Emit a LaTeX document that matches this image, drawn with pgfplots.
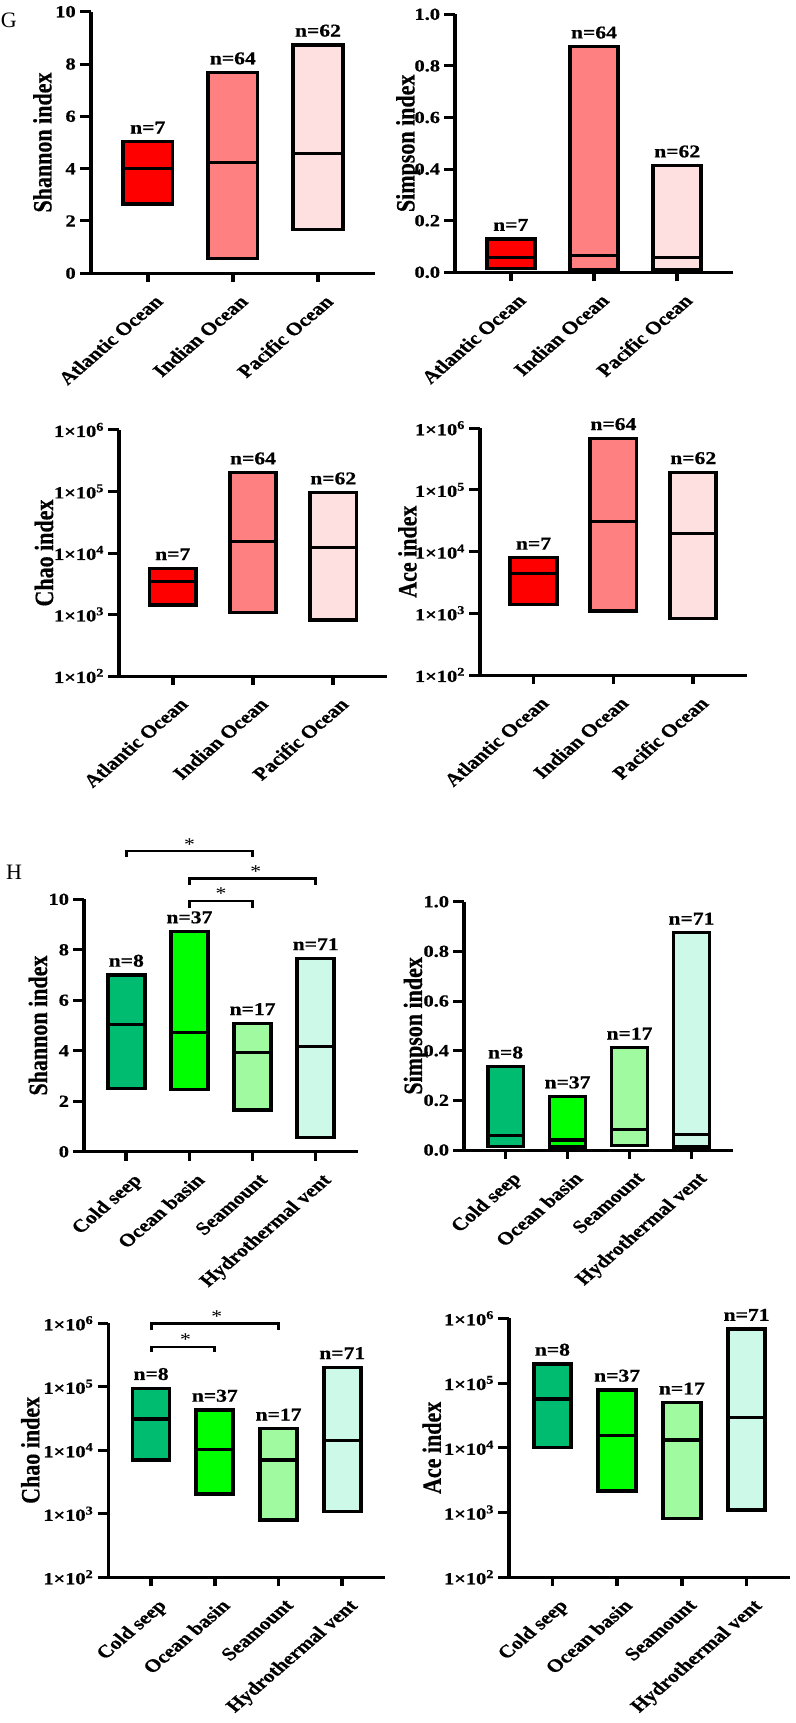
\documentclass[border=0pt]{standalone}
\usepackage{fontspec}
\setmainfont{Liberation Serif}[BoldFeatures={FakeBold=0.6}]
\usepackage{pgfplots}
\pgfplotsset{compat=1.18}

\definecolor{atl}{RGB}{255,0,0}
\definecolor{ind}{RGB}{255,128,128}
\definecolor{pac}{RGB}{255,224,224}
\definecolor{cold}{RGB}{0,188,112}
\definecolor{basin}{RGB}{0,255,0}
\definecolor{seam}{RGB}{160,250,160}
\definecolor{vent}{RGB}{205,250,232}

\newcommand{\fsz}[1]{\fontsize{#1bp}{#1bp}\selectfont}
\newcommand{\ltl}[1]{1×10\textsuperscript{#1}}

% box from lo to hi with a median bar: xl, xr, lo, med, hi, colour
\newcommand{\rbox}[6]{%
  \addplot[fill=#6, draw=black, line width=3.2bp, line join=miter]
    coordinates {(#1,#3) (#2,#3) (#2,#5) (#1,#5)} -- cycle;
  \addplot[draw=black, line width=3.2bp] coordinates {(#1,#4) (#2,#4)};
}

\tikzset{
  nlab/.style={anchor=south, inner sep=0pt, yshift=8bp, font=\fsz{18}\bfseries},
  sig/.style={anchor=base, inner sep=0pt, yshift=1bp, font=\fsz{18}},
}

\pgfplotsset{
  panel/.style={
    scale only axis, clip=false, anchor=south west,
    axis x line*=bottom, axis y line*=left,
    axis line style={line width=3bp},
    tick style={black, line width=3bp},
    major tick length=9bp, tick align=outside,
    xmin=0.33, xtick={1,2,3,4},
    yticklabel style={font=\fsz{17}\bfseries},
    xticklabel style={font=\fsz{18}\bfseries, xshift=4.5bp, yshift=-10bp, rotate=46, anchor=north east, inner sep=1bp},
    ylabel style={font=\fsz{22}\bfseries, anchor=center},
  },
  ocean/.style={panel, xmax=3.67, xticklabels={Atlantic Ocean, Indian Ocean, Pacific Ocean}},
  habitat/.style={panel, xmax=4.67, xticklabels={Cold seep, Ocean basin, Seamount, Hydrothermal vent}},
  shannon/.style={ymin=0, ymax=10, ytick={0,2,4,6,8,10}, yticklabels={0,2,4,6,8,10}, ylabel={Shannon index}},
  simpson/.style={ymin=0, ymax=1, ytick={0,0.2,0.4,0.6,0.8,1}, yticklabels={0.0,0.2,0.4,0.6,0.8,1.0}, ylabel={Simpson index}},
  ylab at/.style={ylabel style={at={(axis description cs:#1,0.5)}}},
}

\begin{document}
\scalebox{1.2}[1]{%
\begin{tikzpicture}
\useasboundingbox (0,0) rectangle (663.33bp,-1723bp);

% ---- G: oceans ----
\begin{axis}[ocean, shannon, ylab at=-0.17, at={(75.6bp,-273.3bp)}, width=236.9bp, height=261.6bp]
\rbox{0.71}{1.29}{2.65}{4.01}{5.03}{atl}
\rbox{1.71}{2.29}{0.57}{4.23}{7.67}{ind}
\rbox{2.71}{3.29}{1.68}{4.57}{8.73}{pac}
\node[nlab] at (axis cs:1,5.03) {n=7};
\node[nlab] at (axis cs:2,7.67) {n=64};
\node[nlab] at (axis cs:3,8.73) {n=62};
\end{axis}

\begin{axis}[ocean, simpson, ylab at=-0.169, at={(379.2bp,-272.3bp)}, width=231.6bp, height=258bp]
\rbox{0.71}{1.29}{0.015}{0.058}{0.129}{atl}
\rbox{1.71}{2.29}{0.010}{0.066}{0.874}{ind}
\rbox{2.71}{3.29}{0.010}{0.057}{0.413}{pac}
\node[nlab] at (axis cs:1,0.129) {n=7};
\node[nlab] at (axis cs:2,0.874) {n=64};
\node[nlab] at (axis cs:3,0.413) {n=62};
\end{axis}

\begin{axis}[ocean, ymode=log, ymin=100, ymax=1000000, ytick={100,1000,10000,100000,1000000},
  yticklabels={\ltl{2},\ltl{3},\ltl{4},\ltl{5},\ltl{6}}, yminorticks=false,
  ylabel={Chao index}, ylab at=-0.28, at={(99.2bp,-676bp)}, width=223.3bp, height=246bp]
\rbox{0.71}{1.29}{1427}{3413}{5640}{atl}
\rbox{1.71}{2.29}{1070}{15270}{202000}{ind}
\rbox{2.71}{3.29}{813}{12400}{95500}{pac}
\node[nlab] at (axis cs:1,5640) {n=7};
\node[nlab] at (axis cs:2,202000) {n=64};
\node[nlab] at (axis cs:3,95500) {n=62};
\end{axis}

\begin{axis}[ocean, ymode=log, ymin=100, ymax=1000000, ytick={100,1000,10000,100000,1000000},
  yticklabels={\ltl{2},\ltl{3},\ltl{4},\ltl{5},\ltl{6}}, yminorticks=false,
  ylabel={Ace index}, ylab at=-0.272, at={(400bp,-675bp)}, width=222.3bp, height=246.7bp]
\rbox{0.71}{1.29}{1400}{4450}{7960}{atl}
\rbox{1.71}{2.29}{1090}{30500}{686000}{ind}
\rbox{2.71}{3.29}{830}{19800}{192800}{pac}
\node[nlab] at (axis cs:1,7960) {n=7};
\node[nlab] at (axis cs:2,686000) {n=64};
\node[nlab] at (axis cs:3,192800) {n=62};
\end{axis}

% ---- H: habitats ----
\begin{axis}[habitat, shannon, ylab at=-0.168, at={(70bp,-1151.7bp)}, width=228.3bp, height=252.4bp]
\rbox{0.71}{1.29}{2.51}{5.05}{7.00}{cold}
\rbox{1.71}{2.29}{2.47}{4.73}{8.72}{basin}
\rbox{2.71}{3.29}{1.65}{3.92}{5.09}{seam}
\rbox{3.71}{4.29}{0.55}{4.16}{7.66}{vent}
\node[nlab] at (axis cs:1,7.00) {n=8};
\node[nlab] at (axis cs:2,8.72) {n=37};
\node[nlab] at (axis cs:3,5.09) {n=17};
\node[nlab] at (axis cs:4,7.66) {n=71};
% significance brackets
\addplot[black, line width=2.4bp] coordinates {(1,11.66) (1,11.91) (3,11.91) (3,11.66)};
\addplot[black, line width=2.4bp] coordinates {(2,10.57) (2,10.82) (4,10.82) (4,10.57)};
\addplot[black, line width=2.4bp] coordinates {(2,9.66) (2,9.94) (3,9.94) (3,9.66)};
\node[sig] at (axis cs:2,11.91) {*};
\node[sig] at (axis cs:3.05,10.82) {*};
\node[sig] at (axis cs:2.5,9.94) {*};
\end{axis}

\begin{axis}[habitat, simpson, ylab at=-0.18, at={(386.7bp,-1150bp)}, width=224.1bp, height=248.3bp]
\rbox{0.71}{1.29}{0.013}{0.060}{0.335}{cold}
\rbox{1.71}{2.29}{0.012}{0.040}{0.215}{basin}
\rbox{2.71}{3.29}{0.018}{0.083}{0.412}{seam}
\rbox{3.71}{4.29}{0.012}{0.064}{0.875}{vent}
\node[nlab] at (axis cs:1,0.335) {n=8};
\node[nlab] at (axis cs:2,0.215) {n=37};
\node[nlab] at (axis cs:3,0.412) {n=17};
\node[nlab] at (axis cs:4,0.875) {n=71};
\end{axis}

\begin{axis}[habitat, ymode=log, ymin=100, ymax=1000000, ytick={100,1000,10000,100000,1000000},
  yticklabels={\ltl{2},\ltl{3},\ltl{4},\ltl{5},\ltl{6}}, yminorticks=false,
  ylabel={Chao index}, ylab at=-0.282, at={(90.3bp,-1577.3bp)}, width=230.5bp, height=254bp]
\rbox{0.71}{1.29}{7030}{31100}{94700}{cold}
\rbox{1.71}{2.29}{2050}{10260}{43100}{basin}
\rbox{2.71}{3.29}{798}{7030}{21900}{seam}
\rbox{3.71}{4.29}{1080}{14200}{203000}{vent}
\node[nlab] at (axis cs:1,94700) {n=8};
\node[nlab] at (axis cs:2,43100) {n=37};
\node[nlab] at (axis cs:3,21900) {n=17};
\node[nlab] at (axis cs:4,203000) {n=71};
\addplot[black, line width=2.4bp] coordinates {(1,784000) (1,1000000) (3,1000000) (3,784000)};
\addplot[black, line width=2.4bp] coordinates {(1,357000) (1,428000) (2,428000) (2,357000)};
\node[sig] at (axis cs:2.03,1000000) {*};
\node[sig] at (axis cs:1.54,428000) {*};
\end{axis}

\begin{axis}[habitat, ymode=log, ymin=100, ymax=1000000, ytick={100,1000,10000,100000,1000000},
  yticklabels={\ltl{2},\ltl{3},\ltl{4},\ltl{5},\ltl{6}}, yminorticks=false,
  ylabel={Ace index}, ylab at=-0.275, at={(424.2bp,-1577.3bp)}, width=234.1bp, height=259bp]
\rbox{0.71}{1.29}{10050}{56700}{197000}{cold}
\rbox{1.71}{2.29}{2150}{15400}{78200}{basin}
\rbox{2.71}{3.29}{815}{13200}{49800}{seam}
\rbox{3.71}{4.29}{1095}{29200}{684000}{vent}
\node[nlab] at (axis cs:1,197000) {n=8};
\node[nlab] at (axis cs:2,78200) {n=37};
\node[nlab] at (axis cs:3,49800) {n=17};
\node[nlab] at (axis cs:4,684000) {n=71};
\end{axis}

% panel letters (not stretched in the reference)
\node[font=\fsz{22}, inner sep=0pt] at (7.3bp,-20.8bp) {\scalebox{0.8333}[1]{G}};
\node[font=\fsz{22}, inner sep=0pt] at (11.8bp,-872.5bp) {\scalebox{0.8333}[1]{H}};
\end{tikzpicture}%
}
\end{document}
